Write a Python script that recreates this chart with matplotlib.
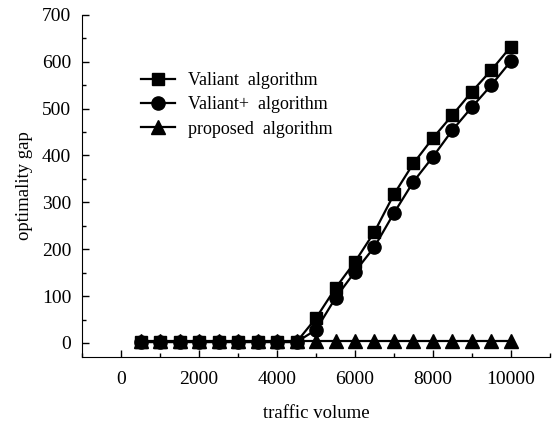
import matplotlib.pyplot as plt
from matplotlib.ticker import MultipleLocator

plt.rcParams["font.family"] = ["Liberation Serif", "DejaVu Serif"]

traffic = [500, 1000, 1500, 2000, 2500, 3000, 3500, 4000, 4500, 5000,
           5500, 6000, 6500, 7000, 7500, 8000, 8500, 9000, 9500, 10000]
valiant = [2, 2, 2, 2, 2, 2, 2, 2, 2, 53,
           117, 173, 237, 317, 383, 437, 486, 536, 582, 632]
valiant_plus = [2, 2, 2, 2, 2, 2, 2, 2, 2, 28,
                96, 152, 205, 277, 344, 397, 454, 503, 550, 601]
proposed = [4] * 20

fig = plt.figure(figsize=(5.52, 4.23), dpi=100)
ax = fig.add_axes([0.149, 0.156, 0.847, 0.809])

ax.plot(traffic, valiant, "k-", marker="s", markersize=9, lw=1.6,
        label="Valiant  algorithm", zorder=4)
ax.plot(traffic, valiant_plus, "k-", marker="o", markersize=9.5, lw=1.6,
        label="Valiant+  algorithm", zorder=3)
ax.plot(traffic, proposed, "k-", marker="^", markersize=9.5, lw=1.6,
        label="proposed  algorithm", zorder=2)

ax.set_xlim(-1000, 11000)
ax.set_ylim(-30, 700)
ax.xaxis.set_major_locator(MultipleLocator(2000))
ax.xaxis.set_minor_locator(MultipleLocator(1000))
ax.yaxis.set_major_locator(MultipleLocator(100))
ax.yaxis.set_minor_locator(MultipleLocator(50))
ax.tick_params(which="both", direction="in", labelsize=14, width=1)
ax.tick_params(which="major", length=5)
ax.tick_params(which="minor", length=3)
ax.spines["top"].set_visible(False)
ax.spines["right"].set_visible(False)
ax.xaxis.set_tick_params(pad=10)
ax.yaxis.set_tick_params(pad=8)

ax.set_xlabel("traffic volume", fontsize=13.5, labelpad=12)
ax.set_ylabel("optimality gap", fontsize=13.5, labelpad=6)

ax.legend(loc="upper left", bbox_to_anchor=(0.09, 0.88), frameon=False,
          fontsize=13, handlelength=1.9, handletextpad=0.7, labelspacing=0.4)

fig.savefig("out.png", dpi=100)
